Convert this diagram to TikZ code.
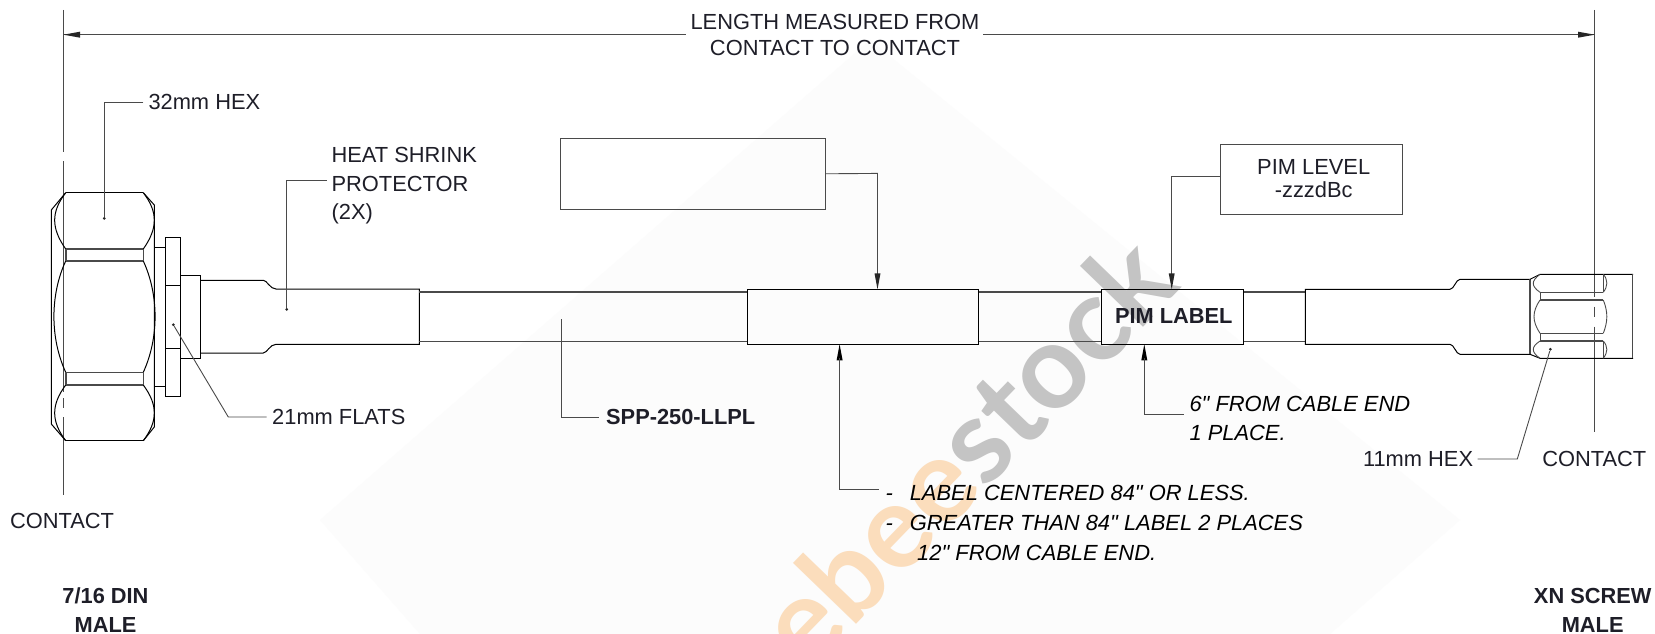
\documentclass[tikz,border=0pt]{standalone}
\usepackage{fontspec}
\setmainfont{Liberation Sans}
\newfontfamily\qf{Liberation Sans}
\newfontfamily\wmf{Lato}
\definecolor{ink}{HTML}{1E1E28}
\definecolor{lgray}{HTML}{4A4A4A}
\tikzset{
 x=1pt,y=-1pt,
 body/.style={line width=1pt,black},
 thin line/.style={line width=0.9pt,lgray},
 heavy/.style={line width=1.4pt,black},
 leader/.style={line width=0.9pt,color=lgray},
 tipdot/.style={circle,fill=black!85,inner sep=0pt,minimum size=3pt},
 lab/.style={inner sep=0pt,font=\fontsize{21.85}{24}\selectfont,text=ink},
 blab/.style={lab,font=\fontsize{21.8}{24}\selectfont\bfseries},
 ilab/.style={lab,font=\fontsize{21.9}{24}\selectfont\itshape,text=black},
 boxn/.style={draw=lgray,line width=0.9pt,inner sep=0pt},
 sleeve/.style={draw=black,line width=1pt,fill=none,inner sep=0pt},
}
\newcommand{\headdown}[2]{\fill[black!85] (#1-3,#2-16) -- (#1+3,#2-16) -- (#1,#2) -- cycle;}
\newcommand{\headup}[2]{\fill[black] (#1-3,#2+16) -- (#1+3,#2+16) -- (#1,#2) -- cycle;}
\newcommand{\qt}{{\qf\symbol{34}}}
\begin{document}
\begin{tikzpicture}
\useasboundingbox (0,0) rectangle (1655,634);
\fill[white] (0,0) rectangle (1655,634);
% faint background
\fill[black!1.2] (320,520) -- (870,40) -- (1460,520) -- (1330,634) -- (420,634) -- cycle;
% watermark
\begin{scope}
\clip (0,0) rectangle (1655,634);
\node[rotate=46,inner sep=0pt,anchor=base west,font=\wmf\fontsize{118}{118}\selectfont\bfseries] at (808,675) {\textcolor[HTML]{FBDDBC}{ebee}\textcolor[HTML]{C4C4C4}{stock}};
\end{scope}
% centre lines
\coordinate (cl1) at (63.5,10); \coordinate (cl2) at (63.5,152);
\draw[thin line] (cl1) -- (cl2);
\draw[thin line] (63.5,161) -- (63.5,392);
\draw[thin line] (63.5,398) -- (63.5,408);
\draw[thin line] (63.5,417) -- (63.5,495);
\draw[thin line] (1594.7,10) -- (1594.7,296.7);
\draw[thin line] (1594.7,306.7) -- (1594.7,316.7);
\draw[thin line] (1594.7,326.7) -- (1594.7,431.7);
% left nut
\draw[body] (65.7,192.7) -- (51.3,210) -- (51.3,424) -- (65.7,440.7);
\draw[heavy] (65.7,192.7) -- (143.3,192.7);
\draw[heavy] (65.7,440.7) -- (143.3,440.7);
\draw[body] (143.3,192.7) -- (154.3,205) -- (154.3,427) -- (143.3,440.7);
\draw[body] (65.7,192.7) .. controls (51,212) and (51,228) .. (65.7,249);
\draw[body] (143.3,192.7) .. controls (158,212) and (158,228) .. (143.3,249);
\draw[body] (65.7,261) .. controls (50,295) and (50,338) .. (65.7,372.3);
\draw[body] (143.3,261) .. controls (159,295) and (159,338) .. (143.3,372.3);
\draw[body] (65.7,385) .. controls (51,405) and (51,421) .. (65.7,440.7);
\draw[body] (143.3,385) .. controls (158,405) and (158,421) .. (143.3,440.7);
\draw[thin line,line width=1.2pt] (65.7,249) -- (143.3,249) (65.7,261) -- (143.3,261) (65.7,372.3) -- (143.3,372.3) (65.7,385) -- (143.3,385);
\draw[thin line,line width=1.6pt] (65.7,249) -- (65.7,261) (143.3,249) -- (143.3,261) (65.7,372.3) -- (65.7,385) (143.3,372.3) -- (143.3,385);
% collar and flange
\draw[body] (154.3,247.7) -- (165.7,247.7) (154.3,386.3) -- (165.7,386.3);
\draw[thin line,draw=black,line width=.9pt] (165.7,237) rectangle (180,396.7);
\draw[body] (165.7,285) -- (180,285) (165.7,348.7) -- (180,348.7);
\draw[body] (180,275.3) -- (200.7,275.3) -- (200.7,358.3) -- (180,358.3);
% left heat shrink
\draw[body] (200.7,280.3) -- (263.3,280.3) .. controls (267,280.3) and (270,289) .. (276,289) -- (419.4,289) -- (419.4,344.3) -- (276,344.3) .. controls (270,344.3) and (267,353) .. (263.3,353) -- (200.7,353);
% cable
\draw[thin line,line width=1.1pt] (419.4,292) -- (747.4,292) (419.4,341.7) -- (747.4,341.7);
\draw[thin line,line width=1.1pt] (977.7,292) -- (1101.3,292) (977.7,341.7) -- (1101.3,341.7);
\draw[thin line,line width=1.1pt] (1243.3,292) -- (1305.3,292) (1243.3,341.7) -- (1305.3,341.7);
% sleeves
\node[sleeve,anchor=north west,minimum width=230.3pt,minimum height=55pt] (lab1) at (747.4,289.3) {};
\node[sleeve,anchor=north west,minimum width=142pt,minimum height=55pt] (lab2) at (1101.3,289.3) {};
\node[blab] at (1173.8,316) {PIM LABEL};
% right heat shrink
\draw[body] (1530,279.3) -- (1460,279.3) .. controls (1456,279.3) and (1454,289.3) .. (1450,289.3) -- (1305.3,289.3) -- (1305.3,344.3) -- (1450,344.3) .. controls (1454,344.3) and (1456,354.3) .. (1460,354.3) -- (1530,354.3);
% right nut
\draw[heavy,draw=lgray] (1530,279.3) -- (1530,354.3);
\draw[body] (1530,279.3) -- (1540,274.3) -- (1633,274.3) (1530,354.3) -- (1540,358.3) -- (1633,358.3);
\draw[heavy,draw=lgray] (1632.5,274.3) -- (1632.5,358.3);
\draw[thin line,line width=1.1pt] (1540,292.3) -- (1603.3,292.3) (1540,300) -- (1603.3,300) (1540,333.3) -- (1603.3,333.3) (1540,341) -- (1603.3,341);
\draw[thin line] (1540,292.3) -- (1540,300) (1540,333.3) -- (1540,341);
\draw[thin line] (1603.3,274.3) -- (1603.3,292.3) (1603.3,341) -- (1603.3,358.3);
\draw[thin line] (1540,274.3) .. controls (1531,281) and (1531,286) .. (1540,292.3);
\draw[thin line] (1540,300) .. controls (1532,312) and (1532,321) .. (1540,333.3);
\draw[thin line] (1540,341) .. controls (1531,347) and (1531,352) .. (1540,358.3);
\draw[thin line] (1603.3,274.3) .. controls (1608,280) and (1608,286) .. (1603.3,292.3);
\draw[thin line] (1603.3,300) .. controls (1608,312) and (1608,321) .. (1603.3,333.3);
\draw[thin line] (1603.3,341) .. controls (1608,347) and (1608,352) .. (1603.3,358.3);
% dimension
\node[lab,align=center] (dim) at (835,22) {LENGTH MEASURED FROM};
\node[lab,align=center] (dim2) at (835,47.5) {CONTACT TO CONTACT};
\coordinate (dl) at (63.5,34.7); \coordinate (dr) at (1594.7,34.7);
\coordinate (dlm) at (686,34.7); \coordinate (drm) at (983,34.7);
\draw[thin line,line width=1.1pt] (dl) -- (dlm) (drm) -- (dr);
\fill[black!85] (dl) -- (80,31.7) -- (80,37.7) -- cycle;
\fill[black!85] (dr) -- (1578,31.7) -- (1578,37.7) -- cycle;
% 32mm hex
\node[lab,anchor=west] (hex32) at (148.3,102) {32mm HEX};
\node[tipdot] (d32) at (104.3,218.3) {};
\draw[leader] ([xshift=-5pt]hex32.west) -- (104.3,102) -- (d32);
% heat shrink
\node[lab,anchor=west] (hs1) at (331.4,155) {HEAT SHRINK};
\node[lab,anchor=west] (hs2) at (331.4,184) {PROTECTOR};
\node[lab,anchor=west] (hs3) at (331.4,214) {(2X)};
\node[tipdot] (dhs) at (286.7,309.3) {};
\draw[leader] (326.7,180) -- (286.7,180) -- (dhs);
% 21mm
\node[lab,anchor=west] (fl) at (272,417) {21mm FLATS};
\node[tipdot] (dfl) at (173.3,324.7) {};
\draw[leader] ([xshift=-5.3pt]fl.west) -- (228.3,417) -- (dfl);
% SPP
\node[blab,anchor=west] (spp) at (606,417) {SPP-250-LLPL};
\coordinate (sp0) at (561.8,319.3);
\draw[leader] (sp0) -- (561.8,417) -- ([xshift=-6.7pt]spp.west);
% box 1
\node[boxn,anchor=north west,minimum width=265.2pt,minimum height=71.3pt] (b1) at (559.5,137.7) {};
\draw[leader] (b1.east) -- (877.5,173.4) -- (877.5,275);
\headdown{877.5}{289.3}
% pim level
\node[boxn,anchor=north west,minimum width=181.4pt,minimum height=70pt] (b2) at (1220.3,144.3) {};
\node[lab] (pl1) at (1313.7,166.7) {PIM LEVEL};
\node[lab] (pl2) at (1313.7,190) {-zzzdBc};
\draw[leader] (1220.3,176.7) -- (1171.7,176.7) -- (1171.7,275);
\headdown{1171.7}{289.3}
% label arrow
\headup{839.6}{344.3}
\draw[leader] (839.6,358) -- (839.6,489) -- (878.6,489);
\node[ilab,anchor=base west] (n1a) at (885.5,500.5) {-};
\node[ilab,anchor=base west] (n1) at (909.6,500.5) {LABEL CENTERED 84\qt{} OR LESS.};
\node[ilab,anchor=base west] (n2a) at (885.5,530) {-};
\node[ilab,anchor=base west] (n2) at (909.6,530) {GREATER THAN 84\qt{} LABEL 2 PLACES};
\node[ilab,anchor=base west] (n3) at (917,560) {12\qt{} FROM CABLE END.};
% 6 in arrow
\headup{1144.3}{344.3}
\draw[leader] (1144.3,358) -- (1144.3,414.3) -- (1184,414.3);
\node[ilab,anchor=west] (s1) at (1189.3,404.3) {6\qt{} FROM CABLE END};
\node[ilab,anchor=west] (s2) at (1189.3,433.3) {1 PLACE.};
% 11mm
\node[lab,anchor=east] (hex11) at (1473.3,459) {11mm HEX};
\node[tipdot] (d11) at (1550.3,349.3) {};
\draw[leader] ([xshift=4.4pt]hex11.east) -- (1517.3,459) -- (d11);
\node[lab] (c2) at (1594.3,459) {CONTACT};
\node[lab] (c1) at (62,521) {CONTACT};
\node[blab] (din1) at (105.5,596) {7/16 DIN};
\node[blab] (din2) at (105.5,625) {MALE};
\node[blab] (xn1) at (1592.7,596) {XN SCREW};
\node[blab] (xn2) at (1592.7,625) {MALE};
\end{tikzpicture}
\end{document}
